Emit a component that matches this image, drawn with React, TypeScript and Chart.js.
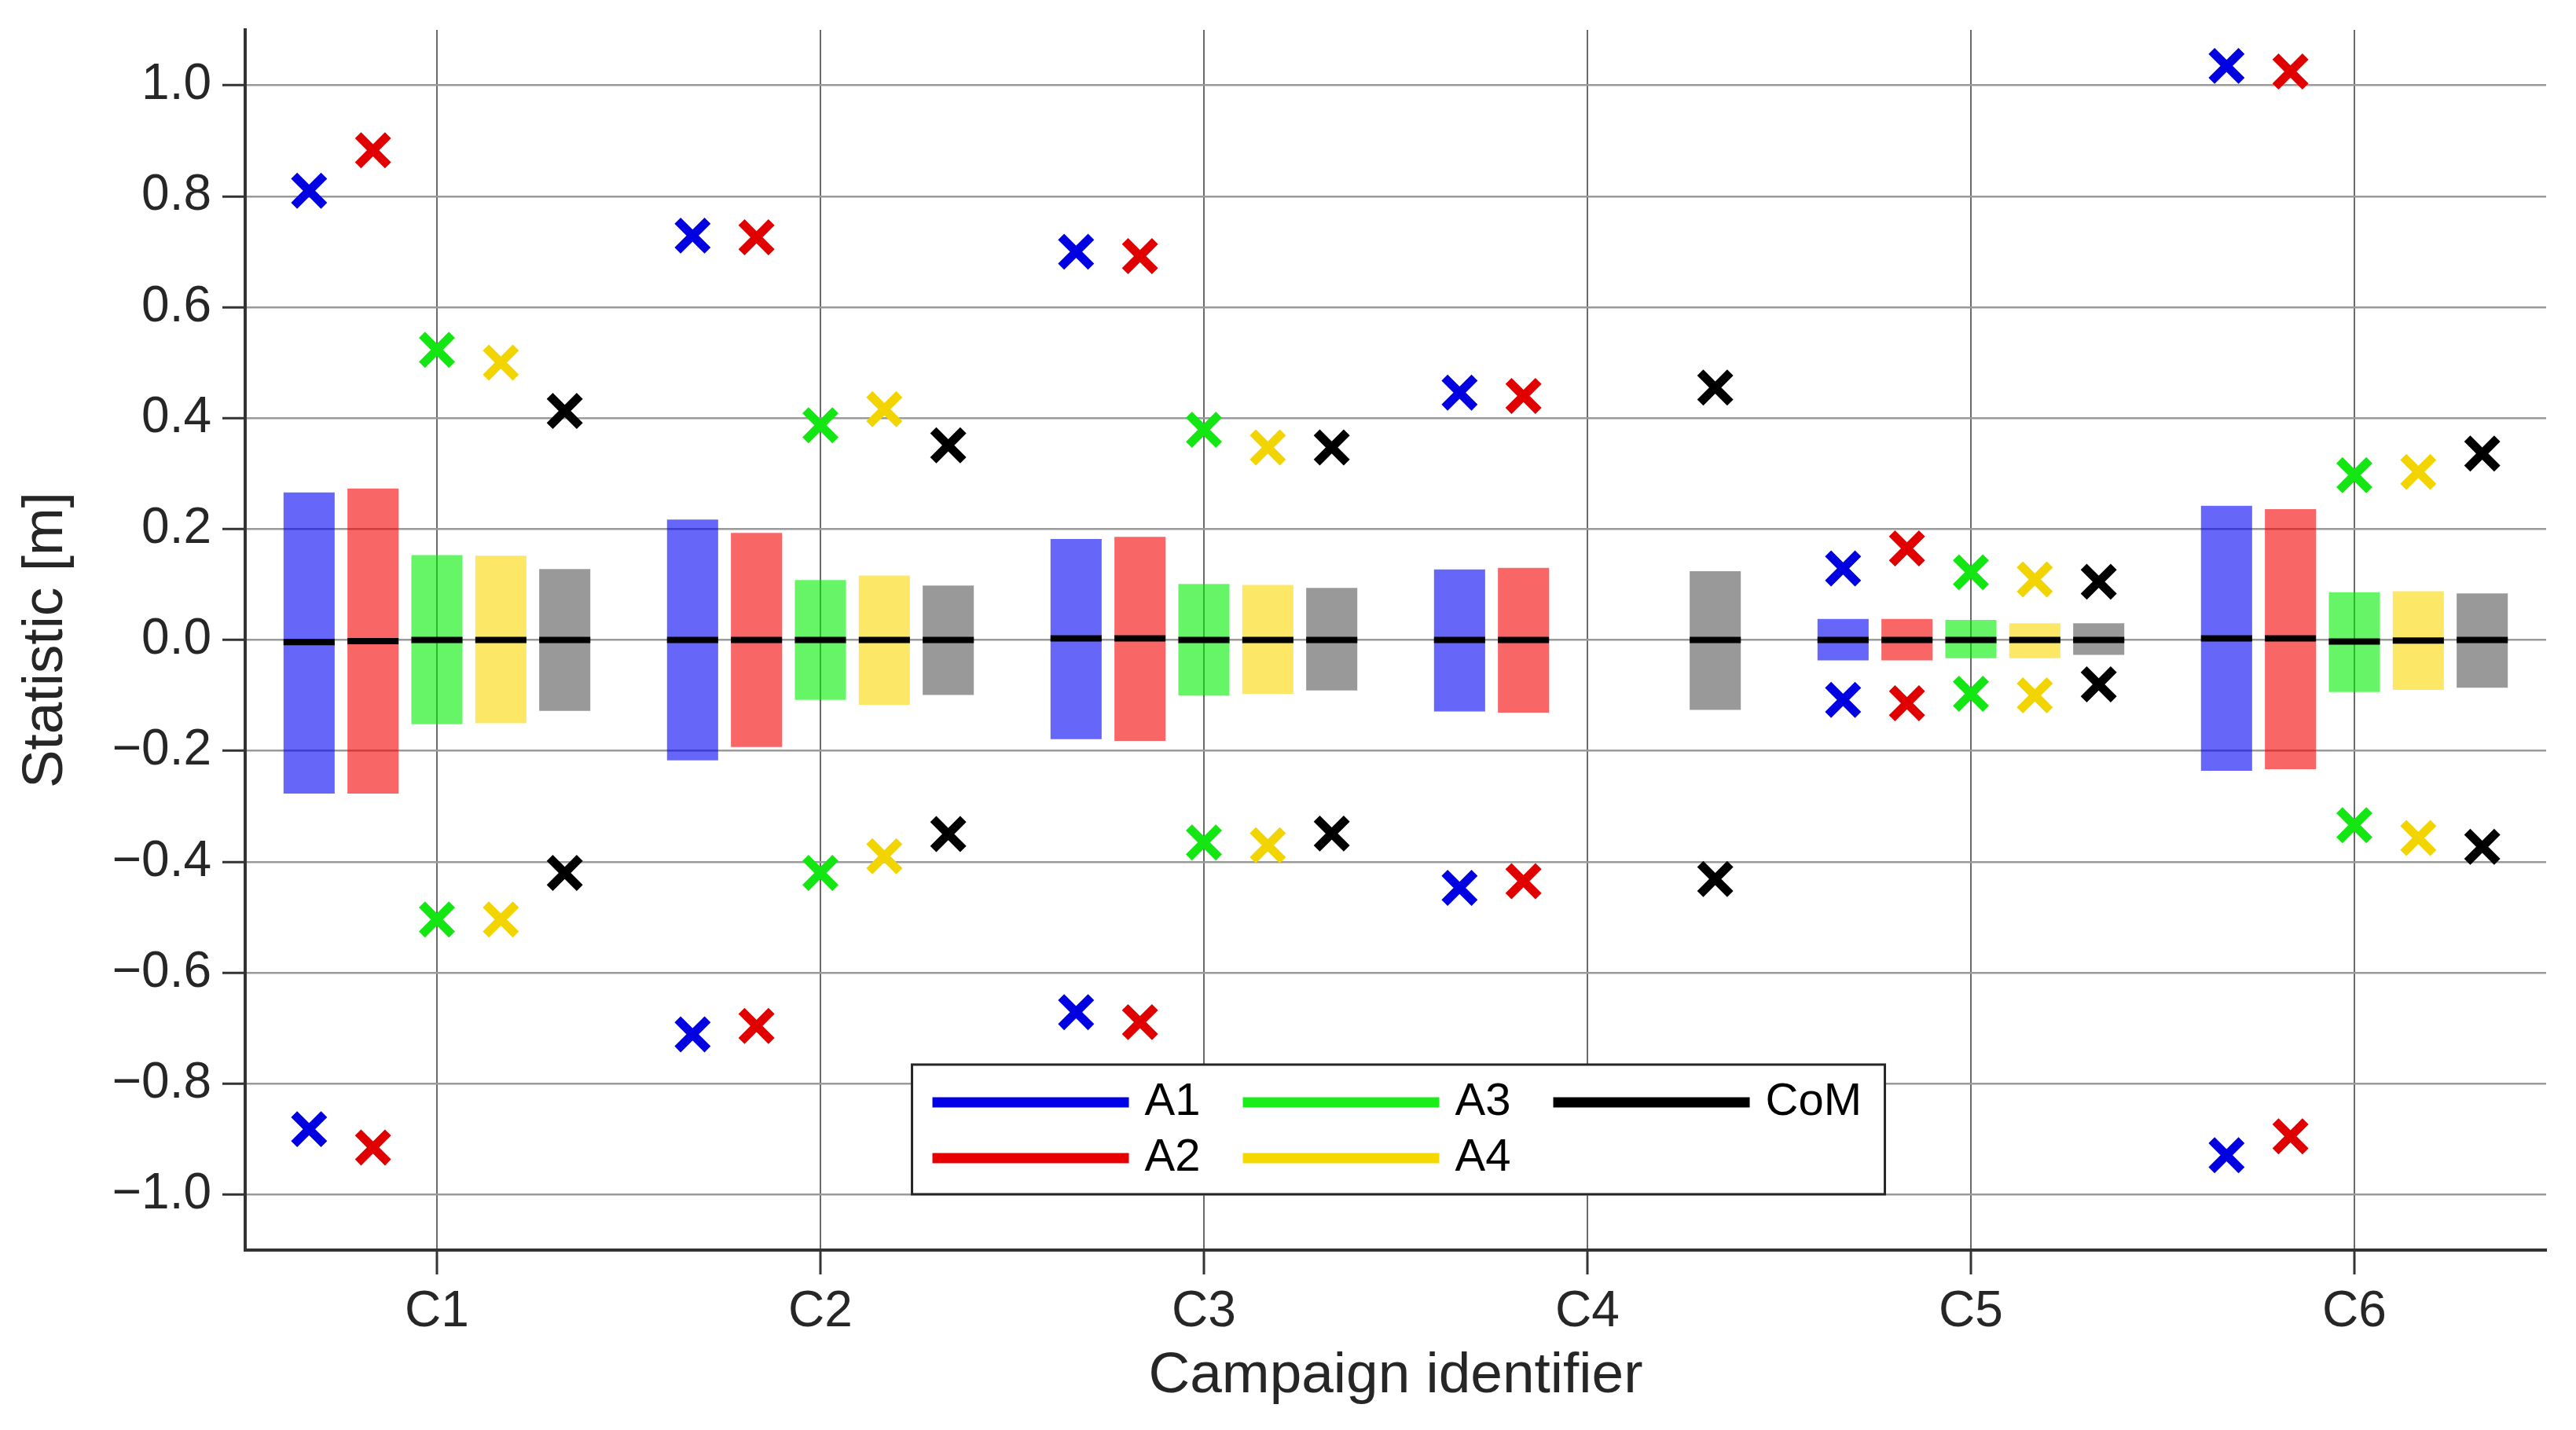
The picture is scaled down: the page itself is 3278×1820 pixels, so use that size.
import React, { useEffect, useRef } from 'react';
import { Chart, registerables } from 'chart.js';

Chart.register(...registerables);

// ---------- data ----------
const categories = ['C1', 'C2', 'C3', 'C4', 'C5', 'C6'];
const seriesNames = ['A1', 'A2', 'A3', 'A4', 'CoM'];
const yTickValues = [-1.0, -0.9, -0.8, -0.7, -0.6, -0.5, -0.4, -0.3, -0.2, -0.1, 0.0, 0.1, 0.2, 0.3, 0.4, 0.5, 0.6, 0.7, 0.8, 0.9, 1.0];

const A1_low = [-0.277, -0.217, -0.179, -0.129, -0.037, -0.236];
const A1_high = [0.266, 0.217, 0.182, 0.127, 0.038, 0.242];
const A1_mean = [-0.004, 0.0, 0.003, 0.0, 0.0, 0.003];
const A1_max = [0.81, 0.729, 0.70, 0.446, 0.129, 1.035];
const A1_min = [-0.882, -0.711, -0.671, -0.447, -0.108, -0.929];

const A2_low = [-0.277, -0.193, -0.182, -0.131, -0.037, -0.233];
const A2_high = [0.273, 0.193, 0.186, 0.130, 0.038, 0.236];
const A2_mean = [-0.002, 0.0, 0.003, 0.0, 0.0, 0.003];
const A2_max = [0.883, 0.726, 0.692, 0.44, 0.165, 1.025];
const A2_min = [-0.915, -0.696, -0.689, -0.435, -0.114, -0.895];

const A3_low = [-0.152, -0.108, -0.10, null, -0.033, -0.094];
const A3_high = [0.153, 0.108, 0.101, null, 0.036, 0.086];
const A3_mean = [0.0, 0.0, 0.0, null, 0.0, -0.003];
const A3_max = [0.523, 0.387, 0.379, null, 0.122, 0.297];
const A3_min = [-0.504, -0.42, -0.365, null, -0.097, -0.334];

const A4_low = [-0.15, -0.117, -0.097, null, -0.033, -0.09];
const A4_high = [0.152, 0.116, 0.099, null, 0.030, 0.088];
const A4_mean = [0.0, 0.0, 0.0, null, 0.0, -0.001];
const A4_max = [0.50, 0.416, 0.347, null, 0.109, 0.303];
const A4_min = [-0.504, -0.39, -0.37, null, -0.10, -0.357];

const CoM_low = [-0.128, -0.099, -0.091, -0.126, -0.027, -0.086];
const CoM_high = [0.128, 0.098, 0.094, 0.124, 0.030, 0.084];
const CoM_mean = [0.0, 0.0, 0.0, 0.0, 0.0, 0.0];
const CoM_max = [0.413, 0.351, 0.347, 0.455, 0.105, 0.336];
const CoM_min = [-0.42, -0.35, -0.349, -0.431, -0.08, -0.373];

const lows = [A1_low, A2_low, A3_low, A4_low, CoM_low];
const highs = [A1_high, A2_high, A3_high, A4_high, CoM_high];
const means = [A1_mean, A2_mean, A3_mean, A4_mean, CoM_mean];
const maxs = [A1_max, A2_max, A3_max, A4_max, CoM_max];
const mins = [A1_min, A2_min, A3_min, A4_min, CoM_min];

// ---------- styles ----------
const barColors = ['rgba(0,0,245,0.6)', 'rgba(245,0,0,0.6)', 'rgba(0,238,0,0.6)', 'rgba(250,217,0,0.6)', 'rgba(0,0,0,0.4)'];
const markerColors = ['#0000e0', '#e00000', '#14e614', '#f2d500', '#000000'];
const legendColors = ['#0000e6', '#e60000', '#1aee1a', '#f5d800', '#000000'];

const FONT = '"Liberation Sans", Arial, Helvetica, sans-serif';
const TEXT = '#262626';
const N = seriesNames.length;
const SLOT = 1 / (N + 1); // group occupies 5/6 of a category, one slot per series
const BAR_PCT = 0.8;
const slotX = (i: number, k: number) => i + 1 + (k - (N - 1) / 2) * SLOT;

const legendPlugin = {
  id: 'boxLegend',
  afterDraw(chart: any) {
    const { ctx, chartArea: ca } = chart;
    const w = ca.right - ca.left;
    const h = ca.bottom - ca.top;
    const bx = ca.left + 0.2898 * w;
    const by = ca.top + 0.848 * h;
    const bw = 1238;
    const bh = 165;
    ctx.save();
    ctx.fillStyle = '#ffffff';
    ctx.fillRect(bx, by, bw, bh);
    ctx.strokeStyle = TEXT;
    ctx.lineWidth = 3;
    ctx.strokeRect(bx, by, bw, bh);
    ctx.font = `58px ${FONT}`;
    ctx.textBaseline = 'middle';
    ctx.textAlign = 'left';
    seriesNames.forEach((name, k) => {
      const col = Math.floor(k / 2);
      const row = k % 2;
      const x0 = bx + 26 + col * 395;
      const y0 = by + 48 + row * 71;
      ctx.strokeStyle = legendColors[k];
      ctx.lineWidth = 13;
      ctx.beginPath();
      ctx.moveTo(x0, y0);
      ctx.lineTo(x0 + 250, y0);
      ctx.stroke();
      ctx.fillStyle = '#000';
      ctx.fillText(name, x0 + 270, y0);
    });
    ctx.restore();
  },
};

export default function App() {
  const ref = useRef<HTMLCanvasElement>(null);

  useEffect(() => {
    document.body.style.margin = '0';
    const barSets = seriesNames.map((name, k) => ({
      type: 'bar' as const,
      label: name,
      data: categories
        .map((_, i) => (highs[k][i] == null ? null : { x: slotX(i, k), y: [lows[k][i], highs[k][i]] }))
        .filter((p) => p !== null),
      backgroundColor: barColors[k],
      borderWidth: 0,
      grouped: false,
      categoryPercentage: 1,
      barPercentage: BAR_PCT,
      order: 3,
    }));
    const meanSets = seriesNames.map((name, k) => ({
      type: 'scatter' as const,
      label: name + ' mean',
      data: categories
        .map((_, i) => (means[k][i] == null ? null : { x: slotX(i, k), y: means[k][i] }))
        .filter((p) => p !== null),
      pointStyle: 'line',
      borderColor: '#000000',
      backgroundColor: '#000000',
      pointBorderColor: '#000000',
      pointBorderWidth: 8,
      pointRadius: (ctx: any) => {
        const s = ctx.chart.scales.x;
        if (!s) return 30;
        return ((s.getPixelForValue(1) - s.getPixelForValue(0)) * SLOT * BAR_PCT) / 2;
      },
      order: 2,
    }));
    const markerSets = seriesNames.map((name, k) => ({
      type: 'scatter' as const,
      label: name + ' extremes',
      data: categories.flatMap((_, i) =>
        maxs[k][i] == null
          ? []
          : [
              { x: slotX(i, k), y: maxs[k][i] },
              { x: slotX(i, k), y: mins[k][i] },
            ]
      ),
      pointStyle: 'crossRot',
      borderColor: markerColors[k],
      backgroundColor: markerColors[k],
      pointBorderColor: markerColors[k],
      pointBorderWidth: 11,
      pointRadius: 27,
      order: 1,
    }));

    const chart = new Chart(ref.current as HTMLCanvasElement, {
      type: 'bar',
      data: {
        datasets: [...barSets, ...meanSets, ...markerSets] as any,
      },
      options: {
        animation: false,
        responsive: true,
        maintainAspectRatio: false,
        devicePixelRatio: 1,
        events: [],
        layout: { padding: { top: 29, right: 36, left: 0, bottom: 0 } },
        plugins: {
          legend: { display: false },
          tooltip: { enabled: false },
        },
        scales: {
          x: {
            type: 'linear',
            min: 0.5,
            max: 6.5,
            offset: false,
            afterBuildTicks: (s: any) => {
              s.ticks = categories.map((_, i) => ({ value: i + 1 }));
            },
            grid: {
              offset: false,
              color: '#6a6a6a',
              lineWidth: 2,
              drawTicks: true,
              tickLength: 31,
              tickColor: '#333333',
              tickWidth: 3,
            },
            border: { display: true, color: '#333333', width: 4 },
            ticks: {
              font: { family: FONT, size: 64, lineHeight: 1.2 },
              color: TEXT,
              padding: 10,
              maxRotation: 0,
              autoSkip: false,
              callback: (v: any) => categories[Math.round(Number(v)) - 1] ?? '',
            },
            title: {
              display: true,
              text: 'Campaign identifier',
              font: { family: FONT, size: 73, lineHeight: 1 },
              color: TEXT,
              padding: { top: 0, bottom: 32 },
            },
            afterFit: (s: any) => {
              s.height = 229;
              s.paddingLeft = 0;
              s.paddingRight = 0;
            },
          },
          y: {
            type: 'linear',
            min: -1.1,
            max: 1.1,
            afterBuildTicks: (s: any) => {
              s.ticks = yTickValues.map((v) => ({ value: v }));
            },
            ticks: {
              font: { family: FONT, size: 64, lineHeight: 1.2 },
              color: TEXT,
              padding: 14,
              callback: (v: any) => {
                const n = Math.round(Number(v) * 10);
                if (n % 2 !== 0) return '';
                const s = (Math.abs(n) / 10).toFixed(1);
                return n < 0 ? '\u2212' + s : s;
              },
            },
            grid: {
              color: '#9a9a9a',
              lineWidth: 2.5,
              drawTicks: true,
              tickLength: 29,
              tickColor: '#333333',
              tickWidth: 3,
            },
            border: { display: true, color: '#333333', width: 4 },
            title: {
              display: true,
              text: 'Statistic [m]',
              font: { family: FONT, size: 73, lineHeight: 1 },
              color: TEXT,
              padding: { top: 22, bottom: 0 },
            },
            afterFit: (s: any) => {
              s.width = 312;
              s.paddingTop = 0;
              s.paddingBottom = 0;
            },
          },
        },
      } as any,
      plugins: [legendPlugin],
    });
    return () => chart.destroy();
  }, []);

  return (
    <div style={{ width: 3278, height: 1820, position: 'relative', background: '#ffffff' }}>
      <canvas ref={ref} />
    </div>
  );
}
